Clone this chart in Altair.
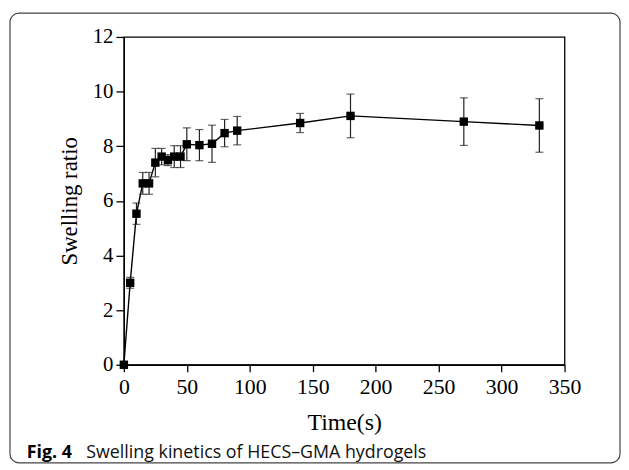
import altair as alt
import pandas as pd

# ---- data ----
time_s = [0, 5, 10, 15, 20, 25, 30, 35, 40, 45, 50, 60, 70, 80, 90, 140, 180, 270, 330]
swelling = [0.0, 3.0, 5.53, 6.64, 6.64, 7.40, 7.62, 7.49, 7.62, 7.62, 8.07, 8.04, 8.09,
            8.48, 8.57, 8.85, 9.11, 8.90, 8.76]
error = [0.0, 0.2, 0.39, 0.4, 0.4, 0.52, 0.3, 0.2, 0.4, 0.4, 0.6, 0.57, 0.68,
         0.5, 0.52, 0.35, 0.8, 0.87, 0.98]

x_ticks = list(range(0, 351, 25))
y_ticks = list(range(0, 13))
x_title = "Time(s)"
y_title = "Swelling ratio"
caption_bold = "Fig. 4"
caption_text = "Swelling kinetics of HECS\u2013GMA hydrogels"

df = pd.DataFrame({"t": time_s, "r": swelling, "e": error})
df["lo"] = df["r"] - df["e"]
df["hi"] = df["r"] + df["e"]
dfe = df[df["e"] > 0]

serif = "Liberation Serif"

x_enc = alt.X(
    "t:Q",
    scale=alt.Scale(domain=[0, 350], nice=False, zero=False),
    axis=alt.Axis(
        values=x_ticks,
        labelExpr="datum.value % 50 === 0 ? datum.label : ''",
        tickSize={"condition": {"test": "datum.value % 50 === 0", "value": 7}, "value": 4},
        title=x_title,
        grid=False,
        labelFlush=False,
        labelOverlap=False,
        labelPadding=5,
        labelFontSize=22,
        titlePadding=13,
        titleFontSize=24,
    ),
)
y_enc = alt.Y(
    "r:Q",
    scale=alt.Scale(domain=[0, 12], nice=False, zero=False),
    axis=alt.Axis(
        values=y_ticks,
        labelExpr="datum.value % 2 === 0 ? datum.label : ''",
        tickSize={"condition": {"test": "datum.value % 2 === 0", "value": 8}, "value": 4},
        title=y_title,
        grid=False,
        labelFlush=False,
        labelOverlap=False,
        labelPadding=3,
        labelFontSize=21,
        titlePadding=11,
        titleFontSize=23,
    ),
)

base = alt.Chart(df)
line = base.mark_line(color="black", strokeWidth=1.4).encode(x=x_enc, y=y_enc)
points = base.mark_square(size=72, color="black", opacity=1).encode(x="t:Q", y="r:Q")

ebase = alt.Chart(dfe)
rules = ebase.mark_rule(color="#222", strokeWidth=1.2).encode(x="t:Q", y="lo:Q", y2="hi:Q")
cap_lo = ebase.mark_tick(orient="horizontal", size=8, thickness=1.2, color="#222").encode(x="t:Q", y="lo:Q")
cap_hi = ebase.mark_tick(orient="horizontal", size=8, thickness=1.2, color="#222").encode(x="t:Q", y="hi:Q")

one = pd.DataFrame({"a": [0]})
box = alt.Chart(one).mark_rect(
    fill="white", fillOpacity=0, stroke="#444", strokeWidth=1.2, cornerRadius=9
).encode(x=alt.value(-115), x2=alt.value(501), y=alt.value(-24), y2=alt.value(430))

cap1 = alt.Chart(one).mark_text(
    align="left", baseline="alphabetic", font="Open Sans", fontSize=18, fontWeight="bold", color="black"
).encode(x=alt.value(-98), y=alt.value(425), text=alt.value(caption_bold))
cap2 = alt.Chart(one).mark_text(
    align="left", baseline="alphabetic", font="Open Sans", fontSize=18, color="#111"
).encode(x=alt.value(-38), y=alt.value(425), text=alt.value(caption_text))

chart = alt.layer(box, line, rules, cap_lo, cap_hi, points, cap1, cap2).properties(
    width=445, height=331,
    autosize=alt.AutoSizeParams(type="none"),
    padding={"left": 117, "top": 27, "right": 57, "bottom": 100},
).configure_view(
    stroke="black", strokeWidth=1.3
).configure_axis(
    domainColor="black", domainWidth=1.3, tickColor="black", tickWidth=1.3,
    labelFont=serif, labelColor="black",
    titleFont=serif, titleFontWeight="normal", titleColor="black",
)

chart.save("out.html", embed_options={"renderer": "svg", "actions": False})
